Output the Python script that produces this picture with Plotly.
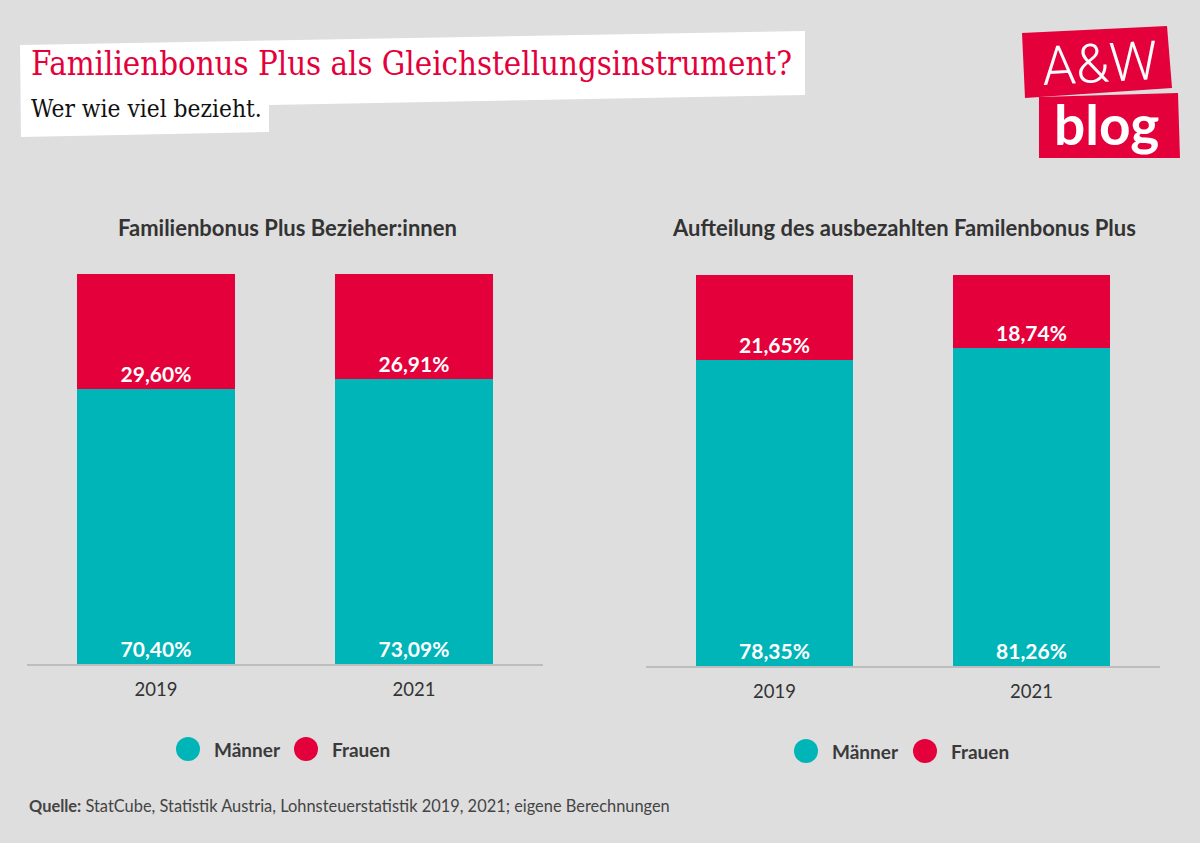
import plotly.graph_objects as go

# ---------------- data ----------------
years = ["2019", "2021"]
bezieher_maenner = [70.40, 73.09]
bezieher_frauen = [29.60, 26.91]
anteil_maenner = [78.35, 81.26]
anteil_frauen = [21.65, 18.74]

title_text = "Familienbonus Plus als Gleichstellungsinstrument?"
subtitle_text = "Wer wie viel bezieht."
left_title = "Familienbonus Plus Bezieher:innen"
right_title = "Aufteilung des ausbezahlten Familenbonus Plus"
source_bold = "Quelle:"
source_text = "StatCube, Statistik Austria, Lohnsteuerstatistik 2019, 2021; eigene Berechnungen"

# ---------------- style ----------------
W, H = 1200, 843
BG = "#dedede"
RED = "#e4003a"
TEAL = "#00b5b8"
DARK = "#333333"
SANS = "Lato, 'Noto Sans', sans-serif"
SERIF = "'DejaVu Serif Condensed', 'DejaVu Serif', serif"


def X(px):
    return px / W


def Y(py):
    return 1 - py / H


fig = go.Figure()

bar_common = dict(
    textposition="inside",
    insidetextanchor="start",
    texttemplate="%{y:.2f}%",
    textfont=dict(family=SANS, size=21, color="white", weight="bold"),
    showlegend=False,
    hoverinfo="skip",
    marker_line_width=0,
)

fig.add_trace(go.Bar(x=years, y=bezieher_maenner, marker_color=TEAL, name="Männer",
                     xaxis="x", yaxis="y", **bar_common))
fig.add_trace(go.Bar(x=years, y=bezieher_frauen, marker_color=RED, name="Frauen",
                     xaxis="x", yaxis="y", **bar_common))
fig.add_trace(go.Bar(x=years, y=anteil_maenner, marker_color=TEAL, name="Männer",
                     xaxis="x2", yaxis="y2", **bar_common))
fig.add_trace(go.Bar(x=years, y=anteil_frauen, marker_color=RED, name="Frauen",
                     xaxis="x2", yaxis="y2", **bar_common))

xcommon = dict(
    type="category",
    range=[-0.5, 1.5],
    showline=True,
    linecolor="#bdbdbd",
    linewidth=2,
    showgrid=False,
    zeroline=False,
    ticks="",
    tickfont=dict(family=SANS, size=18.5, color=DARK),
    ticklabelstandoff=8,
    fixedrange=True,
)
ycommon = dict(range=[0, 100], visible=False, showgrid=False, zeroline=False, fixedrange=True)

shapes = []
annotations = []

# title box (white, slightly tilted)
pts = [(20, 45), (805, 31), (805, 95), (269, 105), (269, 132), (21, 137)]
path = "M " + " L ".join(f"{X(a):.5f},{Y(b):.5f}" for a, b in pts) + " Z"
shapes.append(dict(type="path", xref="paper", yref="paper", path=path,
                   fillcolor="white", line=dict(width=0), layer="below"))

# logo boxes
box1 = [(1022, 33), (1167, 26), (1172, 88), (1025, 98)]
box2 = [(1039, 97), (1178, 93), (1180, 158), (1039, 158)]
for box in (box1, box2):
    p = "M " + " L ".join(f"{X(a):.5f},{Y(b):.5f}" for a, b in box) + " Z"
    shapes.append(dict(type="path", xref="paper", yref="paper", path=p,
                       fillcolor=RED, line=dict(width=0), layer="below"))

annotations.append(dict(x=X(29), y=Y(64), xref="paper", yref="paper", text=title_text,
                        showarrow=False, xanchor="left", yanchor="middle",
                        font=dict(family=SERIF, size=32.7, color=RED)))
annotations.append(dict(x=X(29), y=Y(108), xref="paper", yref="paper", text=subtitle_text,
                        showarrow=False, xanchor="left", yanchor="middle",
                        font=dict(family=SERIF, size=24.3, color="#111111")))

annotations.append(dict(x=X(1099), y=Y(64), xref="paper", yref="paper", text="A&amp;W",
                        showarrow=False, xanchor="center", yanchor="middle", textangle=-3,
                        font=dict(family="Roboto, Lato, sans-serif", size=54, color="white", weight=300)))
annotations.append(dict(x=X(1106), y=Y(124), xref="paper", yref="paper", text="blog",
                        showarrow=False, xanchor="center", yanchor="middle",
                        font=dict(family=SANS, size=55, color="white", weight="bold")))

# chart titles
annotations.append(dict(x=X(287), y=Y(227), xref="paper", yref="paper", text=left_title,
                        showarrow=False, xanchor="center", yanchor="middle",
                        font=dict(family=SANS, size=22, color=DARK, weight="bold")))
annotations.append(dict(x=X(904), y=Y(227), xref="paper", yref="paper", text=right_title,
                        showarrow=False, xanchor="center", yanchor="middle",
                        font=dict(family=SANS, size=22, color=DARK, weight="bold")))

# legends (circle + label)
legend_items = [
    (188, 749, TEAL, "Männer"), (306, 749, RED, "Frauen"),
    (806, 751, TEAL, "Männer"), (925, 751, RED, "Frauen"),
]
r = 12
for cx, cy, col, lab in legend_items:
    shapes.append(dict(type="circle", xref="paper", yref="paper",
                       x0=X(cx - r), x1=X(cx + r), y0=Y(cy + r), y1=Y(cy - r),
                       fillcolor=col, line=dict(width=0)))
    annotations.append(dict(x=X(cx + 24), y=Y(cy), xref="paper", yref="paper", text=lab,
                            showarrow=False, xanchor="left", yanchor="middle",
                            font=dict(family=SANS, size=19, color="#3a3a3a", weight="bold")))

# source
annotations.append(dict(x=X(27), y=Y(805), xref="paper", yref="paper",
                        text=f"<b>{source_bold}</b> {source_text}",
                        showarrow=False, xanchor="left", yanchor="middle",
                        font=dict(family=SANS, size=16.4, color="#444444")))

fig.update_layout(
    width=W, height=H,
    margin=dict(l=0, r=0, t=0, b=0),
    paper_bgcolor=BG, plot_bgcolor=BG,
    barmode="stack", bargap=0.39,
    separators=",.",
    showlegend=False,
    xaxis=dict(domain=[X(27), X(543)], anchor="y", **xcommon),
    yaxis=dict(domain=[Y(664), Y(274)], anchor="x", **ycommon),
    xaxis2=dict(domain=[X(646), X(1160)], anchor="y2", **xcommon),
    yaxis2=dict(domain=[Y(666), Y(275)], anchor="x2", **ycommon),
    shapes=shapes,
    annotations=annotations,
)

fig.write_html(
    "out.html",
    config={"displayModeBar": False},
    post_script="document.body.style.margin='0';document.body.style.background='#dedede';",
)
